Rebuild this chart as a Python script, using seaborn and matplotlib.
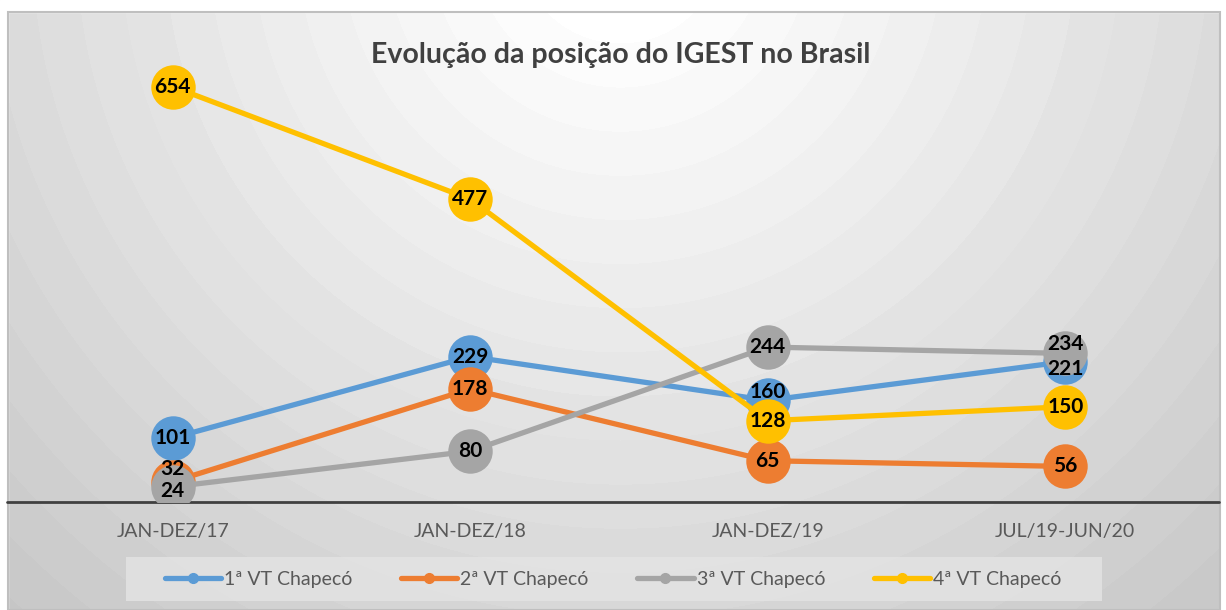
import numpy as np
import pandas as pd
import matplotlib.pyplot as plt
import seaborn as sns
from matplotlib.patches import Rectangle

# dados do gráfico
periodos = ['JAN-DEZ/17', 'JAN-DEZ/18', 'JAN-DEZ/19', 'JUL/19-JUN/20']
vt1 = [101, 229, 160, 221]
vt2 = [32, 178, 65, 56]
vt3 = [24, 80, 244, 234]
vt4 = [654, 477, 128, 150]
series = ['1ª VT Chapecó', '2ª VT Chapecó', '3ª VT Chapecó', '4ª VT Chapecó']
cores = ['#5B9BD5', '#ED7D31', '#A5A5A5', '#FFC000']

df = pd.DataFrame({
    'periodo': periodos * 4,
    'pos': np.tile(np.arange(len(periodos)), 4),
    'valor': vt1 + vt2 + vt3 + vt4,
    'serie': np.repeat(series, len(periodos)),
})

# deslocamento dos rótulos sobrepostos (em pontos)
desloc = {(1, 0): 9, (2, 0): -3, (0, 2): 6, (2, 3): 7, (0, 3): -5}

sns.set_style('white')
plt.rcParams['font.family'] = ['Lato', 'DejaVu Sans']

fig = plt.figure(figsize=(12.26, 6.1), dpi=100)

# fundo com gradiente radial
bg = fig.add_axes([0, 0, 1, 1])
W, H = 1226, 610
yy, xx = np.mgrid[0:H, 0:W]
r = np.hypot(xx - 620, yy + 60)
v = 262 - 0.068 * r
v = np.floor(v / 3) * 3
img = np.clip(v, 190, 255) / 255
bg.imshow(img, cmap='gray', vmin=0, vmax=1, extent=(0, W, H, 0), aspect='auto')
bg.add_patch(Rectangle((0, 0), 8, H, color='white'))
bg.add_patch(Rectangle((0, 0), W, 12, color='white'))
bg.add_patch(Rectangle((W - 6, 0), 6, H, color='white'))
bg.add_patch(Rectangle((8, 12), W - 14, H - 12, fill=False, ec='#BFBFBF', lw=1.5))
# caixa da legenda
bg.add_patch(Rectangle((126, 557), 976, 44, color='#E4E4E4', alpha=0.8, lw=0))
bg.set_xlim(0, W)
bg.set_ylim(H, 0)
bg.axis('off')

ax = fig.add_axes([24 / W, 108 / H, 1190 / W, 444.5 / H])
ax.patch.set_alpha(0)

sns.lineplot(data=df, x='pos', y='valor', hue='serie', palette=cores,
             marker='o', markersize=32, markeredgewidth=0, linewidth=3.8,
             sort=False, legend=False, ax=ax)

for i, vals in enumerate([vt1, vt2, vt3, vt4]):
    for j, val in enumerate(vals):
        ax.annotate(str(val), (j, val), xytext=(0, desloc.get((i, j), 0)),
                    textcoords='offset points', ha='center', va='center',
                    fontsize=15, fontweight='bold', color='black', zorder=10)

ax.set_xlim(-0.5, 3.5)
ax.set_ylim(0, 700)
ax.set_xticks(range(len(periodos)))
ax.set_xticklabels(periodos, fontsize=14, color='#595959')
ax.tick_params(axis='x', length=0, pad=15)
ax.set_yticks([])
ax.set_xlabel('')
ax.set_ylabel('')
for s in ['left', 'right', 'top', 'bottom']:
    ax.spines[s].set_visible(False)
ax.axhline(0, xmin=-0.014, xmax=1.004, color='#404040', lw=2, clip_on=False, zorder=1)

fig.text(0.506, 1 - 55 / H, 'Evolução da posição do IGEST no Brasil',
         ha='center', va='center', fontsize=20.5, fontweight='bold', color='#404040')

handles = [plt.Line2D([], [], color=c, lw=3.8, marker='o', markersize=7) for c in cores]
leg = fig.legend(handles, series, loc='center', bbox_to_anchor=(0.5, 31 / H),
                 ncol=4, frameon=False, fontsize=14, handlelength=2.9,
                 columnspacing=2.5, handletextpad=0.15)
for t in leg.get_texts():
    t.set_color('#595959')

fig.savefig('out.png', dpi=100)
